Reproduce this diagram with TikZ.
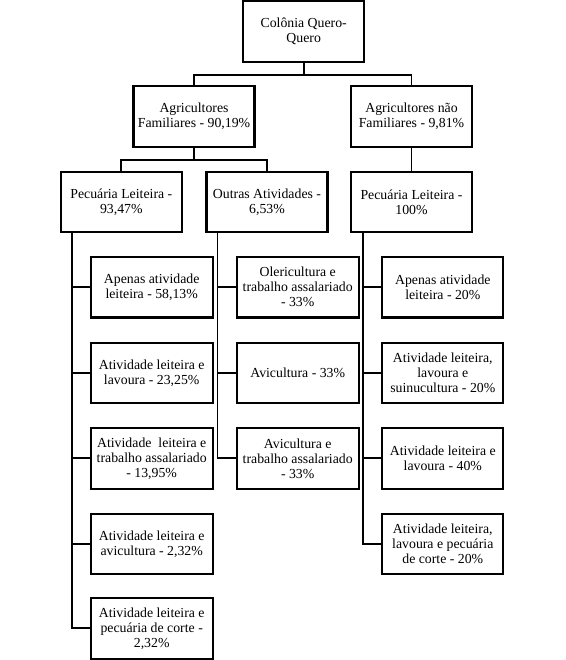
\documentclass[tikz,border=0pt]{standalone}
\usepackage{fontspec}
\setmainfont{Liberation Serif}
\newfontfamily\boxfont{Liberation Serif}
\usepackage{tikz}

\tikzset{
    box/.style={draw=black, line width=2.1pt, fill=white, align=center, inner sep=0pt,
        minimum width=121pt, minimum height=60.5pt, font=\boxfont\fontsize{13.8}{15}\selectfont},
    link/.style={draw=black, line width=1.8pt}
}

\begin{document}
\begin{tikzpicture}[x=1pt, y=-1pt]

\useasboundingbox[fill=white] (0,0) rectangle (565,660);

    %levels
    \node[box] (colonia) at (303.7, 31.7) {Colônia Quero-\\Quero};
    \node[box] (familiar) at (194, 116.4) {Agricultores\\Familiares - 90,19\%};
    \node[box] (naofamiliar) at (411.5, 116.4) {Agricultores não\\Familiares - 9,81\%};
    \node[box] (pecuaria) at (121.3, 202) {Pecuária Leiteira -\\93,47\%};
    \node[box] (outras) at (267, 202) {Outras Atividades -\\6,53\%};
    \node[box] (pecuarianf) at (411.5, 202) {Pecuária Leiteira -\\100\%};

    %leaves, familiar dairy
    \node[box, minimum width=122pt] (pa) at (151.7, 287.2) {Apenas atividade\\leiteira - 58,13\%};
    \node[box, minimum width=122pt] (pb) at (151.7, 373) {Atividade leiteira e\\lavoura - 23,25\%};
    \node[box, minimum width=122pt] (pc) at (151.7, 458.3) {Atividade \ leiteira e\\trabalho assalariado\\- 13,95\%};
    \node[box, minimum width=122pt] (pd) at (151.7, 544) {Atividade leiteira e\\avicultura - 2,32\%};
    \node[box, minimum width=122pt] (pe) at (151.7, 628.3) {Atividade leiteira e\\pecuária de corte -\\2,32\%};

    %leaves, other activities
    \node[box, minimum width=122pt] (oa) at (297.7, 287.2) {Olericultura e\\trabalho assalariado\\- 33\%};
    \node[box, minimum width=122pt] (ob) at (297.7, 373) {Avicultura - 33\%};
    \node[box, minimum width=122pt] (oc) at (297.7, 458.3) {Avicultura e\\trabalho assalariado\\- 33\%};

    %leaves, non familiar dairy
    \node[box] (na) at (442.8, 287.2) {Apenas atividade\\leiteira - 20\%};
    \node[box] (nb) at (442.8, 373) {Atividade leiteira,\\lavoura e\\suinucultura - 20\%};
    \node[box] (nc) at (442.8, 458.3) {Atividade leiteira e\\lavoura - 40\%};
    \node[box] (nd) at (442.8, 544) {Atividade leiteira,\\lavoura e pecuária\\de corte - 20\%};

    %connectors
    \draw[link] (colonia.south) -- ++(0,12) -| (familiar.north);
    \draw[link] (colonia.south) -- ++(0,12) -| (naofamiliar.north);
    \draw[link] (familiar.south) -- ++(0,12.5) -| (pecuaria.north);
    \draw[link] (familiar.south) -- ++(0,12.5) -| (outras.north);
    \draw[link] (naofamiliar.south) -- (pecuarianf.north);

    \foreach \leaf in {pa,pb,pc,pd,pe}
        \draw[link] ([xshift=12.5pt]pecuaria.south west) |- (\leaf.west);
    \foreach \leaf in {oa,ob,oc}
        \draw[link] ([xshift=12pt]outras.south west) |- (\leaf.west);
    \foreach \leaf in {na,nb,nc,nd}
        \draw[link] ([xshift=13pt]pecuarianf.south west) |- (\leaf.west);

\end{tikzpicture}
\end{document}
